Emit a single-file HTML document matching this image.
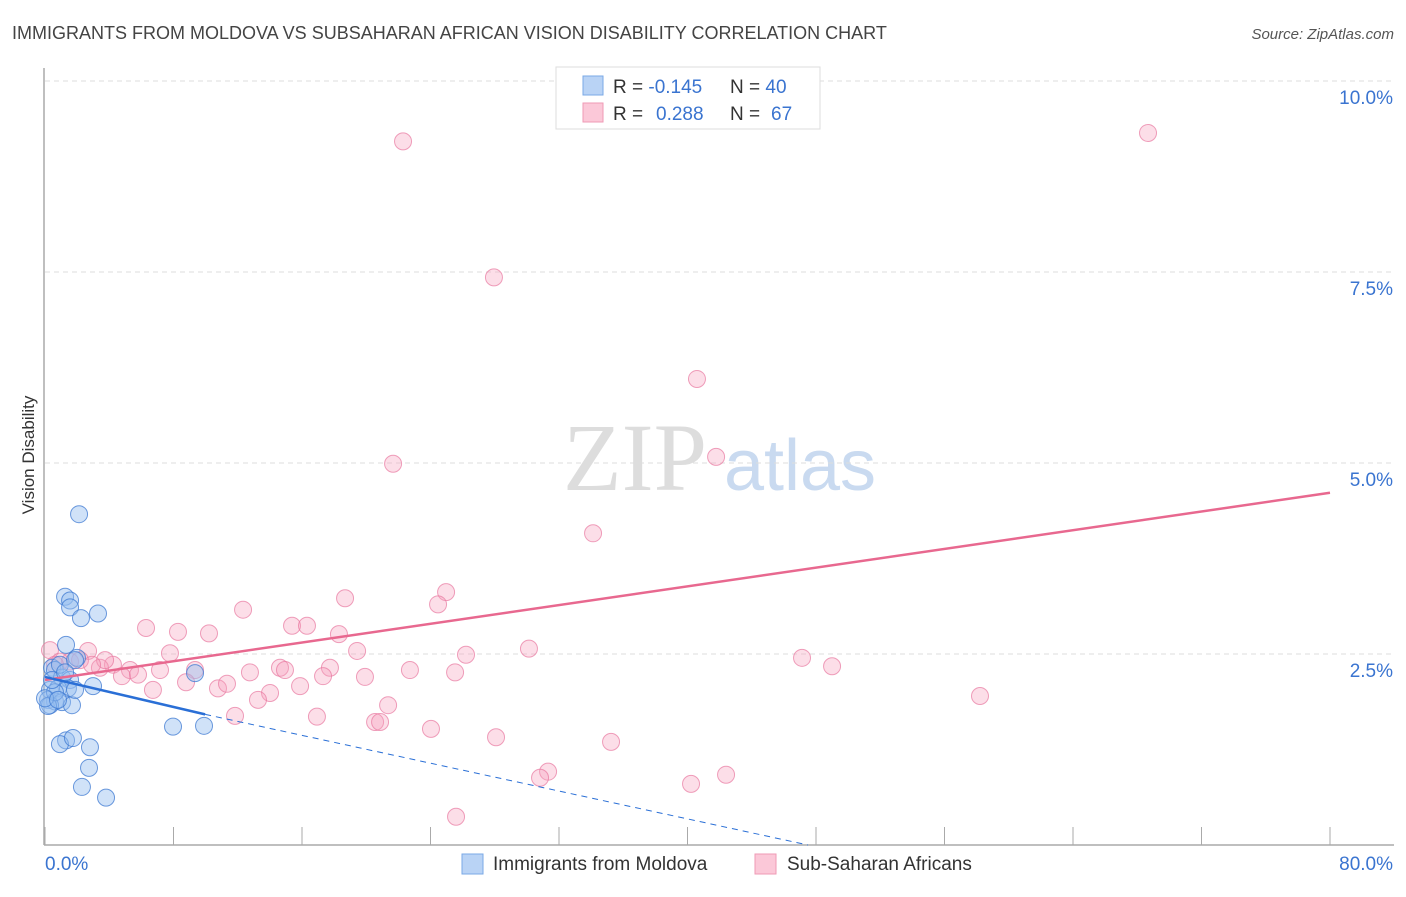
<!DOCTYPE html>
<html><head><meta charset="utf-8"><style>
body{margin:0;background:#fff;font-family:"Liberation Sans",sans-serif}
</style></head><body>
<svg id="chart" width="1406" height="892" xmlns="http://www.w3.org/2000/svg">
<text x="12" y="39" font-size="18" fill="#444">IMMIGRANTS FROM MOLDOVA VS SUBSAHARAN AFRICAN VISION DISABILITY CORRELATION CHART</text>
<text x="1394" y="39" font-size="15" fill="#555" text-anchor="end" font-style="italic">Source: ZipAtlas.com</text>
<text transform="translate(34,455) rotate(-90)" font-size="17" fill="#333" text-anchor="middle">Vision Disability</text>
<g>
<text x="635" y="490" font-size="96" fill="#ddd" font-family="Liberation Serif,serif" text-anchor="middle">ZIP</text>
<text x="800" y="490" font-size="72" fill="#c9daf0" text-anchor="middle">atlas</text>
</g>
<g id="grid"></g><g id="axes"></g><g id="pts"></g><g id="lines"></g>
<g>
<rect x="556" y="67" width="264" height="62" fill="#fff" stroke="#ddd"/>
<rect x="583" y="76" width="20" height="19" fill="#b9d3f5" stroke="#7aa8e6"/>
<rect x="583" y="103" width="20" height="19" fill="#fbc8d8" stroke="#ef9ab5"/>
<text x="613" y="93" font-size="19" fill="#333">R = <tspan fill="#3a74d0">-0.145</tspan><tspan x="730">N = </tspan><tspan fill="#3a74d0">40</tspan></text>
<text x="613" y="120" font-size="19" fill="#333">R = <tspan x="656" fill="#3a74d0">0.288</tspan><tspan x="730">N = </tspan><tspan x="771" fill="#3a74d0">67</tspan></text>
</g>
<g>
<rect x="462" y="854" width="21" height="20" fill="#b9d3f5" stroke="#7aa8e6"/>
<text x="493" y="870" font-size="19" fill="#333">Immigrants from Moldova</text>
<rect x="755" y="854" width="21" height="20" fill="#fbc8d8" stroke="#ef9ab5"/>
<text x="787" y="870" font-size="19" fill="#333">Sub-Saharan Africans</text>
</g>
</svg>
<script>
const xTicks=[0,10,20,30,40,50,60,70,80];
const yTicks=[2.5,5.0,7.5,10.0];
const blueX=[2.12,1.25,1.56,1.56,3.30,2.24,1.31,1.99,0.44,0.62,1.06,1.56,0.31,0.81,1.43,0.19,0.62,1.06,1.68,0.31,2.99,0.19,9.34,7.97,9.90,1.31,0.93,1.74,2.80,2.74,2.30,3.80,0.62,1.87,0.44,0.93,1.87,0,0.81,1.25];
const blueY=[4.33,3.25,3.20,3.11,3.03,2.97,2.62,2.45,2.32,2.29,2.19,2.16,2.03,2.05,2.05,1.90,1.88,1.87,1.83,1.83,2.08,1.82,2.25,1.55,1.56,1.37,1.32,1.40,1.28,1.01,0.76,0.62,2.00,2.03,2.16,2.36,2.42,1.92,1.90,2.26];
const pinkX=[22.29,68.67,27.95,40.59,21.67,41.78,34.12,24.97,18.68,24.47,12.33,6.29,8.28,10.21,15.38,16.31,18.30,30.13,26.21,19.43,2.68,0.31,7.78,47.13,49.0,4.23,5.29,7.16,9.34,12.76,14.63,14.94,17.74,3.42,4.79,5.79,8.78,10.77,11.33,6.72,15.88,14.01,13.26,19.92,22.72,25.53,17.31,58.21,21.36,11.83,16.93,20.55,20.86,24.03,28.08,35.24,31.32,30.82,42.40,40.22,25.59,1.56,0.93,2.18,0.62,3.74,2.93];
const pinkY=[9.21,9.32,7.43,6.10,4.99,5.08,4.08,3.31,3.23,3.15,3.08,2.84,2.79,2.77,2.87,2.87,2.76,2.57,2.49,2.54,2.54,2.55,2.51,2.45,2.34,2.36,2.29,2.29,2.29,2.26,2.32,2.29,2.32,2.32,2.21,2.23,2.13,2.05,2.11,2.03,2.08,1.99,1.90,2.20,2.29,2.26,2.21,1.95,1.83,1.69,1.68,1.61,1.61,1.52,1.41,1.35,0.96,0.88,0.92,0.80,0.37,2.40,2.40,2.42,2.36,2.42,2.36];
const pinkTrend=[[0,2.16],[80,4.61]];
const blueTrend=[[0,2.20],[9.97,1.71]];
const blueDash=[[9.97,1.71],[47.5,0]];
const NS="http://www.w3.org/2000/svg";
const X=v=>45+v/80*1285, Y=v=>845-v*76.4;
function mk(t,a,p){const e=document.createElementNS(NS,t);for(const k in a)e.setAttribute(k,a[k]);document.getElementById(p).appendChild(e);return e;}
yTicks.forEach(t=>{
 const g=mk('line',{x1:45,x2:1394,y1:Y(t),y2:Y(t),stroke:'#ddd','stroke-dasharray':'5,4'},'grid');
 
 
 const l=mk('text',{x:1393,y:Y(t)+23,'font-size':19,fill:'#3a74d0','text-anchor':'end'},'axes');
 l.textContent=t.toFixed(1)+'%';
 
 
});
mk('line',{x1:45,x2:1394,y1:Y(10),y2:Y(10),stroke:'#ddd','stroke-dasharray':'5,4'},'grid');
const ax=mk('line',{x1:44,x2:1394,y1:845,y2:845,stroke:'#aaa','stroke-width':1.5},'axes');


const ay=mk('line',{x1:44,x2:44,y1:68,y2:845,stroke:'#aaa','stroke-width':1.5},'axes');


for(let i=0;i<=10;i++){const tk=mk('line',{x1:X(i*8),x2:X(i*8),y1:827,y2:845,stroke:'#aaa'},'axes');
 
 }
[[0,'start',45],[80,'end',1393]].forEach(([v,a,x])=>{const t=mk('text',{x:x,y:870,'font-size':19,fill:'#3a74d0','text-anchor':a},'axes');t.textContent=v.toFixed(1)+'%';
 
 });
pinkX.forEach((v,i)=>{const c=mk('circle',{cx:X(v),cy:Y(pinkY[i]),r:8.5,fill:'rgba(246,160,188,0.35)',stroke:'rgba(232,120,160,0.7)','stroke-width':1},'pts');
 
 });
blueX.forEach((v,i)=>{const c=mk('circle',{cx:X(v),cy:Y(blueY[i]),r:8.5,fill:'rgba(150,190,240,0.45)',stroke:'rgba(60,120,210,0.75)','stroke-width':1},'pts');
 
 });
const pl=mk('line',{x1:X(pinkTrend[0][0]),y1:Y(pinkTrend[0][1]),x2:X(pinkTrend[1][0]),y2:Y(pinkTrend[1][1]),stroke:'#e8688f','stroke-width':2.5},'lines');


const bl=mk('line',{x1:X(blueTrend[0][0]),y1:Y(blueTrend[0][1]),x2:X(blueTrend[1][0]),y2:Y(blueTrend[1][1]),stroke:'#2a6fd6','stroke-width':2.5},'lines');


const bd=mk('line',{x1:X(blueDash[0][0]),y1:Y(blueDash[0][1]),x2:X(blueDash[1][0]),y2:Y(blueDash[1][1]),stroke:'#2a6fd6','stroke-width':1,'stroke-dasharray':'6,5'},'lines');


</script>
</body></html>
